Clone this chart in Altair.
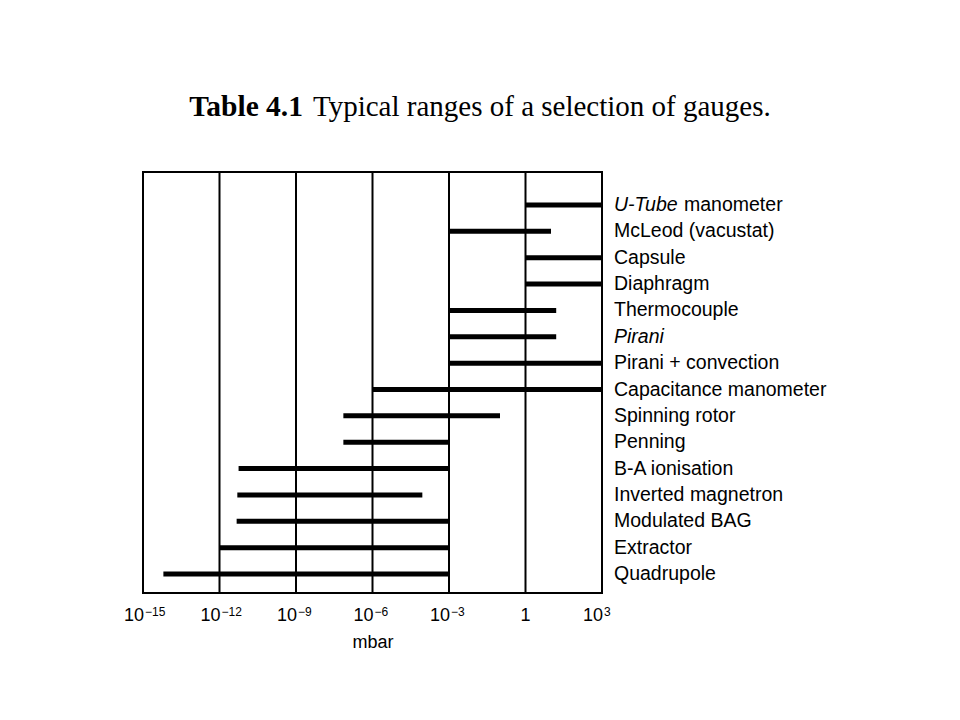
import altair as alt
import pandas as pd

# ---- data ----
gauges = ["U-Tube manometer", "McLeod (vacustat)", "Capsule", "Diaphragm",
          "Thermocouple", "Pirani", "Pirani + convection", "Capacitance manometer",
          "Spinning rotor", "Penning", "B-A ionisation", "Inverted magnetron",
          "Modulated BAG", "Extractor", "Quadrupole"]
label_italic = ["U-Tube", "", "", "", "", "Pirani", "", "", "", "", "", "", "", "", ""]
label_plain = ["manometer", "McLeod (vacustat)", "Capsule", "Diaphragm",
               "Thermocouple", "", "Pirani + convection", "Capacitance manometer",
               "Spinning rotor", "Penning", "B-A ionisation", "Inverted magnetron",
               "Modulated BAG", "Extractor", "Quadrupole"]
low = [1, 1e-3, 1, 1, 1e-3, 1e-3, 1e-3, 1e-6, 7.2e-8, 7.2e-8, 5.6e-12, 5e-12, 4.7e-12, 1e-12, 6.3e-15]
high = [1e3, 10, 1e3, 1e3, 16, 16, 1e3, 1e3, 0.1, 1e-3, 1e-3, 9e-5, 1e-3, 1e-3, 1e-3]

tick_values = [1e-15, 1e-12, 1e-9, 1e-6, 1e-3, 1, 1e3]
tick_base = ["10", "10", "10", "10", "10", "1", "10"]
tick_exp = ["−15", "−12", "−9", "−6", "−3", "", "3"]
x_title = "mbar"
title_bold = "Table 4.1"
title_rest = "Typical ranges of a selection of gauges."

df = pd.DataFrame({"gauge": gauges, "low": low, "high": high,
                   "ital": label_italic, "plain": label_plain})
ticks = pd.DataFrame({"value": tick_values, "base": tick_base, "exp": tick_exp})

W, H = 459, 421
SANS = "Liberation Sans"
SERIF = "Liberation Serif"

xscale = alt.Scale(type="log", domain=[tick_values[0], tick_values[-1]], nice=False)
yscale = alt.Scale(type="point", domain=gauges, range=[33, 402], padding=0)

base = alt.Chart(df)
tbase = alt.Chart(ticks)

grid = tbase.mark_rule(color="black", strokeWidth=2).encode(
    x=alt.X("value:Q", scale=xscale,
            axis=alt.Axis(values=tick_values, labels=False, title=x_title, grid=False,
                          domain=False, ticks=False,
                          titleFont=SANS, titleFontSize=18, titleFontWeight="normal",
                          titleColor="black", titlePadding=40)),
)

bars = base.mark_rule(color="black", strokeWidth=5).encode(
    x=alt.X("low:Q", scale=xscale),
    x2="high:Q",
    y=alt.Y("gauge:N", scale=yscale, axis=None),
)

lab_base = tbase.transform_filter("datum.exp != ''").mark_text(
    align="right", baseline="alphabetic", dx=1, font=SANS, fontSize=18, color="black"
).encode(x=alt.X("value:Q", scale=xscale), y=alt.value(H + 28), text="base:N")

lab_one = tbase.transform_filter("datum.exp == ''").mark_text(
    align="center", baseline="alphabetic", font=SANS, fontSize=18, color="black"
).encode(x=alt.X("value:Q", scale=xscale), y=alt.value(H + 28), text="base:N")

lab_exp = tbase.transform_filter("datum.exp != ''").mark_text(
    align="left", baseline="alphabetic", dx=2, font=SANS, fontSize=12, color="black"
).encode(x=alt.X("value:Q", scale=xscale), y=alt.value(H + 23), text="exp:N")

txt_kw = dict(align="left", baseline="middle", font=SANS, fontSize=19.5, color="black")

plain_txt = base.transform_filter("datum.ital == ''").mark_text(**txt_kw).encode(
    x=alt.value(W + 12), y=alt.Y("gauge:N", scale=yscale, axis=None), text="plain:N")

ital_txt = base.transform_filter("datum.ital != ''").mark_text(fontStyle="italic", **txt_kw).encode(
    x=alt.value(W + 12), y=alt.Y("gauge:N", scale=yscale, axis=None), text="ital:N")

rest_txt = base.transform_filter("datum.ital != '' && datum.plain != ''").mark_text(dx=70, **txt_kw).encode(
    x=alt.value(W + 12), y=alt.Y("gauge:N", scale=yscale, axis=None), text="plain:N")

t1 = alt.Chart(pd.DataFrame({"t": [title_bold]})).mark_text(
    align="right", baseline="alphabetic", font=SERIF, fontSize=29.5, fontWeight="bold", color="black"
).encode(x=alt.value(160), y=alt.value(-56), text="t:N")

t2 = alt.Chart(pd.DataFrame({"t": [title_rest]})).mark_text(
    align="left", baseline="alphabetic", font=SERIF, fontSize=29, color="black"
).encode(x=alt.value(170), y=alt.value(-56), text="t:N")

chart = alt.layer(grid, bars, lab_base, lab_one, lab_exp, plain_txt, ital_txt, rest_txt, t1, t2).properties(
    width=W, height=H,
    autosize=alt.AutoSizeParams(type="none"),
    padding={"left": 135, "top": 164, "right": 350, "bottom": 119},
    background="white",
).configure_view(stroke="black", strokeWidth=2)

chart.save("out.html", embed_options={"renderer": "svg", "actions": False})
